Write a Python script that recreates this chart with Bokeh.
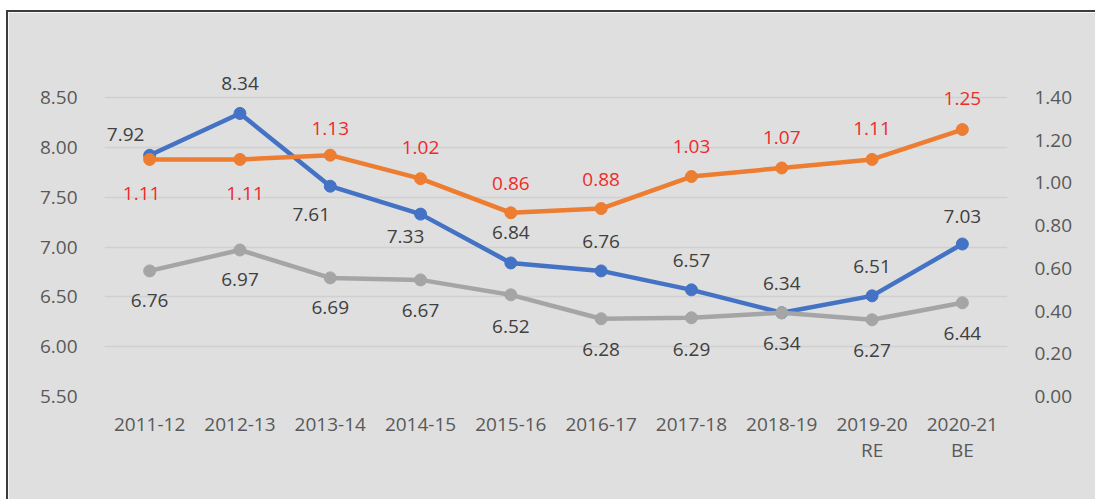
from bokeh.plotting import figure
from bokeh.models import (ColumnDataSource, FactorRange, Range1d, LinearAxis, FixedTicker,
                          PrintfTickFormatter, Legend, LegendItem)
from bokeh.embed import file_html
from bokeh.resources import INLINE
from bokeh.core.properties import value

# ---------------- data ----------------
years = ["2011-12", "2012-13", "2013-14", "2014-15", "2015-16", "2016-17",
         "2017-18", "2018-19", "2019-20\nRE", "2020-21\nBE"]
tn = [7.92, 8.34, 7.61, 7.33, 6.84, 6.76, 6.57, 6.34, 6.51, 7.03]
all_states = [6.76, 6.97, 6.69, 6.67, 6.52, 6.28, 6.29, 6.34, 6.27, 6.44]
petro = [1.11, 1.11, 1.13, 1.02, 0.86, 0.88, 1.03, 1.07, 1.11, 1.25]
left_ticks = [5.5, 6.0, 6.5, 7.0, 7.5, 8.0, 8.5]
right_ticks = [0.0, 0.2, 0.4, 0.6, 0.8, 1.0, 1.2, 1.4]

# label offsets (screen px)
tn_dx = [-24, 0, -19, -15, 0, 0, 0, 0, 0, 0]
tn_dy = [-21, -30, 28, 22, -30, -29, -29, -29, -29, -28]
as_dx = [0] * 10
as_dy = [30, 30, 30, 31, 32, 31, 32, 31, 31, 31]
pe_dx = [-8, 5, 0, 0, 0, 0, 0, 0, 0, 0]
pe_dy = [34, 34, -27, -31, -29, -29, -30, -30, -31, -31]

FONT = "Open Sans"
BG = "#dfdfdf"
BLUE, GREY, ORANGE = "#4472C4", "#A5A5A5", "#ED7D31"
RED = "#EE2B2B"
DARK = "#404040"
TICK = "#595959"

frame_h = 336
top_pad = 37
f = top_pad / frame_h
l_start, l_top = 5.5, 8.5
l_end = (l_top - l_start * f) / (1 - f)
r_end = (l_end - l_start) / (l_top - l_start) * 1.4

p = figure(frame_width=903, frame_height=frame_h, x_range=FactorRange(*years),
           y_range=Range1d(l_start, l_end), output_backend="svg",
           toolbar_location=None, min_border_left=96, min_border_right=88,
           min_border_top=48, min_border_bottom=97)
p.extra_y_ranges = {"right": Range1d(0, r_end)}
p.background_fill_color = BG
p.border_fill_color = BG
p.outline_line_color = BG
p.outline_line_width = 2
p.styles = {"border-top": "2px solid #3c3c3c", "border-left": "2px solid #3c3c3c",
            "margin-top": "10px", "margin-left": "6px"}

p.xgrid.grid_line_color = None
p.ygrid.grid_line_color = "#d0d0d0"
p.ygrid.grid_line_width = 1.5
p.ygrid.ticker = FixedTicker(ticks=left_ticks)

def style_axis(ax):
    ax.axis_line_color = None
    ax.major_tick_line_color = None
    ax.minor_tick_line_color = None
    ax.major_label_text_font = FONT
    ax.major_label_text_font_size = "19px"
    ax.major_label_text_color = TICK

p.yaxis.ticker = FixedTicker(ticks=left_ticks)
p.yaxis.formatter = PrintfTickFormatter(format="%.2f")
p.yaxis.major_label_standoff = 21
style_axis(p.yaxis[0])
style_axis(p.xaxis[0])
p.xaxis.major_label_standoff = 8
p.xaxis.major_label_text_line_height = 1.0

raxis = LinearAxis(y_range_name="right", ticker=FixedTicker(ticks=right_ticks),
                   formatter=PrintfTickFormatter(format="%.2f"))
style_axis(raxis)
raxis.major_label_standoff = 21
p.add_layout(raxis, "right")

src = ColumnDataSource(dict(x=years, tn=tn, al=all_states, pe=petro,
                            tn_t=["%.2f" % v for v in tn],
                            al_t=["%.2f" % v for v in all_states],
                            pe_t=["%.2f" % v for v in petro],
                            tn_dx=tn_dx, tn_dy=tn_dy, as_dx=as_dx, as_dy=as_dy,
                            pe_dx=pe_dx, pe_dy=pe_dy))

l1 = p.line("x", "tn", source=src, line_color=BLUE, line_width=4.5)
s1 = p.scatter("x", "tn", source=src, size=12, fill_color=BLUE, line_color=BLUE)
l2 = p.line("x", "al", source=src, line_color=GREY, line_width=4.5)
s2 = p.scatter("x", "al", source=src, size=12, fill_color=GREY, line_color=GREY)
l3 = p.line("x", "pe", source=src, line_color=ORANGE, line_width=4.5, y_range_name="right")
s3 = p.scatter("x", "pe", source=src, size=12, fill_color=ORANGE, line_color=ORANGE,
               y_range_name="right")

common = dict(text_font=value(FONT), text_font_size="19px", text_align="center",
              text_baseline="middle")
p.text("x", "tn", text="tn_t", x_offset="tn_dx", y_offset="tn_dy", source=src,
       text_color=DARK, **common)
p.text("x", "al", text="al_t", x_offset="as_dx", y_offset="as_dy", source=src,
       text_color=DARK, **common)
p.text("x", "pe", text="pe_t", x_offset="pe_dx", y_offset="pe_dy", source=src,
       text_color=RED, y_range_name="right", **common)

legend = Legend(items=[LegendItem(label="TN", renderers=[l1, s1]),
                       LegendItem(label="All States", renderers=[l2, s2]),
                       LegendItem(label="TN-Tax on petro products (Rh-axis)", renderers=[l3, s3])],
                orientation="horizontal", location=(137, 0),
                background_fill_alpha=0, border_line_color=None,
                glyph_width=48, glyph_height=26, label_standoff=2, spacing=32,
                padding=0, margin=0,
                label_text_font=FONT, label_text_font_size="19px",
                label_text_color=TICK)
p.add_layout(legend, "below")

open("out.html", "w").write(file_html(p, INLINE))
